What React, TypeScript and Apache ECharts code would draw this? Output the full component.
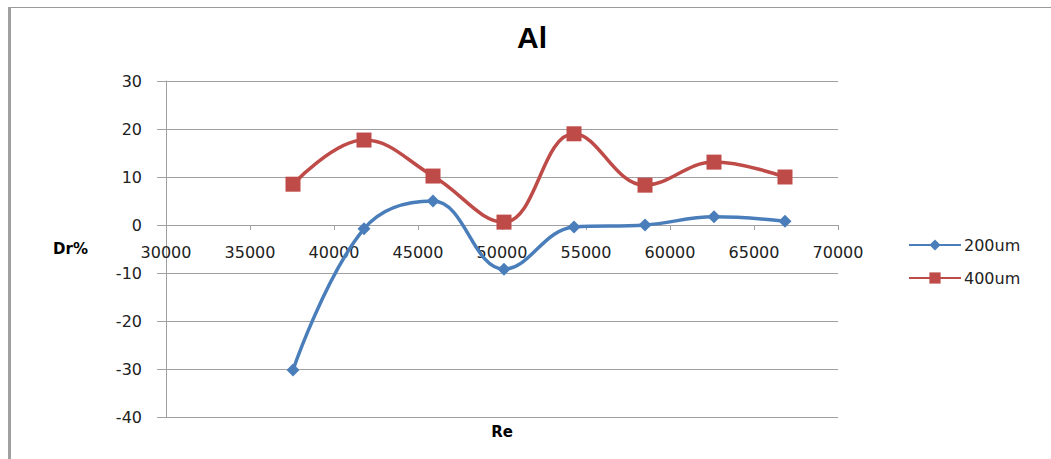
import React, { useEffect, useRef } from "react";
import * as echarts from "echarts";

const reValues = [37560, 41786, 45893, 50119, 54286, 58512, 62619, 66845];
const dr200 = [-30.2, -0.8, 5, -9.2, -0.4, 0, 1.7, 0.8];
const dr400 = [8.5, 17.7, 10.2, 0.6, 19, 8.3, 13.1, 10];
const seriesNames = ["200um", "400um"];
const titleText = "Al";
const xName = "Re";
const yName = "Dr%";

export default function App() {
  const ref = useRef<HTMLDivElement>(null);
  useEffect(() => {
    if (!ref.current) return;
    const chart = echarts.init(ref.current, undefined, { renderer: "svg" });
    const axisFont = { fontFamily: "DejaVu Sans", fontSize: 16, color: "#222" };
    chart.setOption({
      animation: false,
      backgroundColor: "#fff",
      title: {
        text: titleText,
        left: 517,
        top: 22,
        padding: 0,
        textStyle: { fontFamily: "Liberation Sans", fontWeight: "bold", fontSize: 30, color: "#000" },
      },
      graphic: [
        { type: "line", shape: { x1: 8, y1: 7.5, x2: 1051, y2: 7.5 }, style: { stroke: "#9a9a9a", lineWidth: 1 } },
        { type: "rect", shape: { x: 8, y: 7, width: 3, height: 452 }, style: { fill: "#a0a0a0" } },
      ],
      legend: {
        orient: "vertical",
        left: 908,
        top: 237,
        itemWidth: 52,
        itemHeight: 14,
        itemGap: 17,
        padding: 0,
        textStyle: { fontFamily: "DejaVu Sans", fontSize: 16, color: "#222", padding: [0, 0, 0, -2] },
        data: seriesNames,
      },
      grid: { left: 166, right: 213, top: 81, bottom: 42, containLabel: false, outerBoundsMode: "none" },
      xAxis: {
        type: "value",
        min: 30000,
        max: 70000,
        interval: 5000,
        offset: -192,
        name: xName,
        nameLocation: "middle",
        nameGap: 199,
        nameTextStyle: { fontFamily: "DejaVu Sans", fontWeight: "bold", fontSize: 15, color: "#000" },
        axisLine: { onZero: false, lineStyle: { color: "#a0a0a0", width: 1 } },
        axisTick: { show: true, length: 5, lineStyle: { color: "#a0a0a0" } },
        axisLabel: { ...axisFont, margin: 19, formatter: (v: number) => String(v) },
        splitLine: { show: false },
      },
      yAxis: {
        type: "value",
        min: -40,
        max: 30,
        interval: 10,
        name: yName,
        nameLocation: "middle",
        nameRotate: 0,
        nameGap: 78,
        nameTextStyle: { fontFamily: "DejaVu Sans", fontWeight: "bold", fontSize: 15, color: "#000" },
        axisLine: { show: true, onZero: false, lineStyle: { color: "#a0a0a0", width: 1 } },
        axisTick: { show: true, inside: false, length: 9, lineStyle: { color: "#a0a0a0" } },
        axisLabel: { ...axisFont, margin: 24 },
        splitLine: { show: true, lineStyle: { color: "#a0a0a0", width: 1 } },
      },
      series: [
        {
          name: seriesNames[0],
          type: "line",
          smooth: 0.4,
          data: reValues.map((x, i) => [x, dr200[i]]),
          symbol: "diamond",
          symbolSize: 13,
          lineStyle: { color: "#4A7EBB", width: 3.5 },
          itemStyle: { color: "#4A7EBB" },
        },
        {
          name: seriesNames[1],
          type: "line",
          smooth: 0.4,
          data: reValues.map((x, i) => [x, dr400[i]]),
          symbol: "rect",
          symbolSize: 15,
          lineStyle: { color: "#BE4B48", width: 3.5 },
          itemStyle: { color: "#BE4B48" },
        },
      ],
    });
    return () => chart.dispose();
  }, []);
  return (
    <div
      ref={ref}
      style={{ position: "absolute", left: 0, top: 0, width: 1051, height: 459 }}
    />
  );
}
